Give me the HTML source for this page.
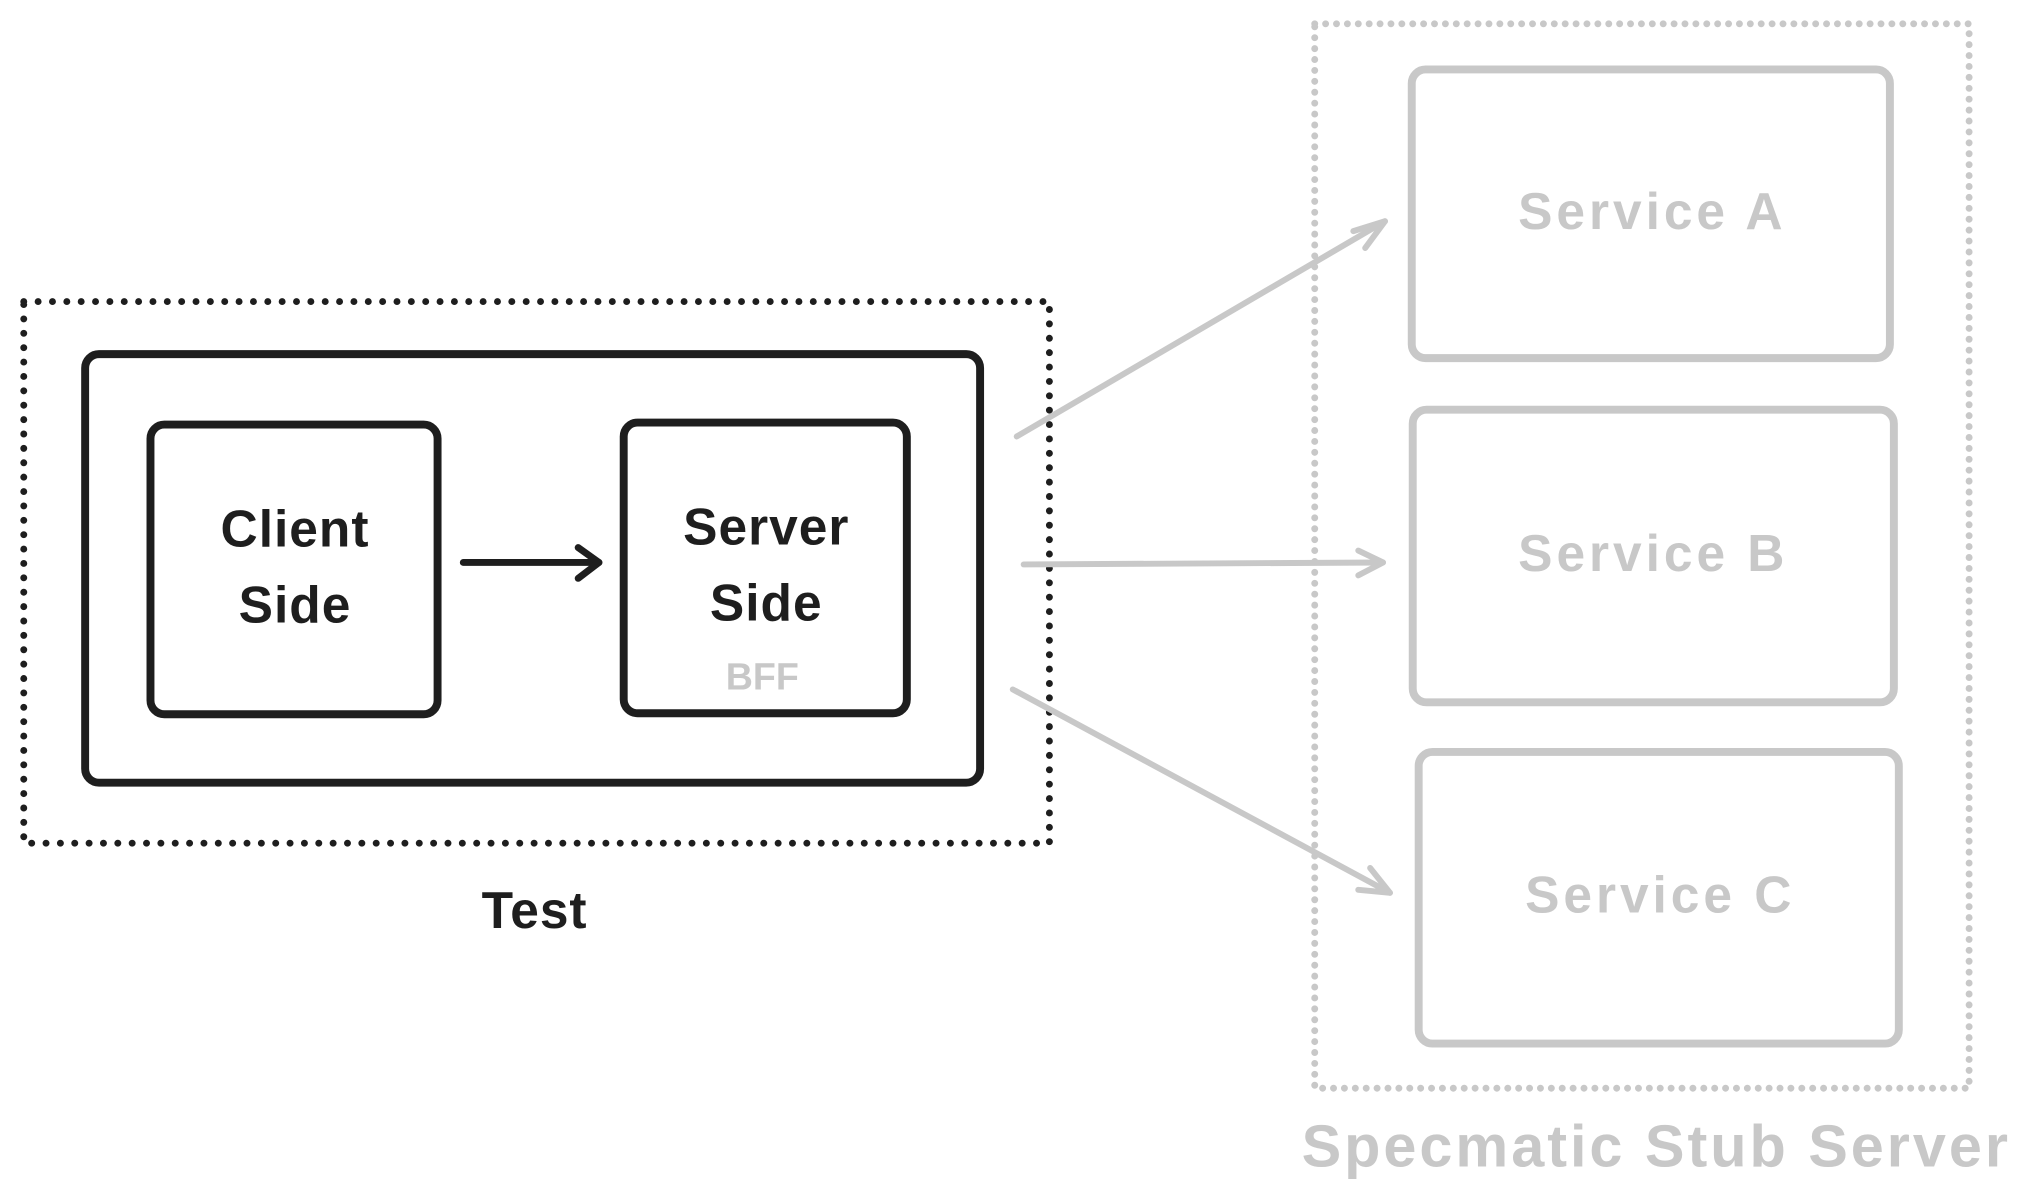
<!DOCTYPE html>
<html><head><meta charset="utf-8"><style>
html,body{margin:0;padding:0;background:#fff;}
svg{display:block}
text{font-family:"Liberation Sans",sans-serif;font-weight:bold;text-anchor:middle;dominant-baseline:middle}
</style></head><body>
<svg width="2036" height="1200" viewBox="0 0 2036 1200" xmlns="http://www.w3.org/2000/svg">
<rect width="2036" height="1200" fill="#fff"/>
<g transform="scale(0.99,0.992)">
<rect x="24" y="304" width="1036" height="546" fill="none" stroke="#1e1e1e" stroke-width="7" stroke-dasharray="0 14.5" stroke-linecap="round"/>
<rect x="86" y="357" width="904" height="432" rx="14" fill="none" stroke="#1e1e1e" stroke-width="8"/>
<rect x="152" y="428" width="290" height="292" rx="14" fill="none" stroke="#1e1e1e" stroke-width="8"/>
<rect x="630" y="426" width="286" height="293" rx="14" fill="none" stroke="#1e1e1e" stroke-width="8"/>
<g stroke="#1e1e1e" stroke-width="7" stroke-linecap="round" fill="none" stroke-linejoin="round">
<line x1="468" y1="567" x2="605" y2="567"/>
<polyline points="584,552 605,567 584,583"/>
</g>
<text x="298" y="537" font-size="52" fill="#1e1e1e" letter-spacing="1">Client</text>
<text x="298" y="614" font-size="52" fill="#1e1e1e" letter-spacing="1">Side</text>
<text x="774" y="535" font-size="52" fill="#1e1e1e" letter-spacing="1">Server</text>
<text x="774" y="612" font-size="52" fill="#1e1e1e" letter-spacing="1">Side</text>
<text x="770" y="685" font-size="38" fill="#c8c8c8">BFF</text>
<text x="540" y="922" font-size="52" fill="#1e1e1e" letter-spacing="1">Test</text>
<rect x="1328" y="24" width="661" height="1073" fill="none" stroke="#c8c8c8" stroke-width="7" stroke-dasharray="0 11" stroke-linecap="round"/>
<g fill="none" stroke="#c8c8c8" stroke-width="8">
<rect x="1426" y="70" width="483" height="291" rx="14"/>
<rect x="1427" y="413" width="486" height="295" rx="14"/>
<rect x="1433" y="758" width="485" height="294" rx="14"/>
</g>
<text x="1669" y="217" font-size="52" fill="#c8c8c8" letter-spacing="4">Service A</text>
<text x="1670" y="562" font-size="52" fill="#c8c8c8" letter-spacing="4">Service B</text>
<text x="1677" y="906" font-size="52" fill="#c8c8c8" letter-spacing="4">Service C</text>
<text x="1673" y="1160" font-size="60" fill="#c8c8c8" letter-spacing="3">Specmatic Stub Server</text>
<g stroke="#c8c8c8" stroke-width="6" stroke-linecap="round" fill="none" stroke-linejoin="round">
<line x1="1027" y1="440" x2="1399" y2="223"/>
<polyline points="1367,233 1399,223 1379,250"/>
<line x1="1034" y1="569" x2="1397" y2="567"/>
<polyline points="1372,555 1397,567 1372,580"/>
<line x1="1023" y1="695" x2="1404" y2="900"/>
<polyline points="1384,875 1404,900 1372,897"/>
</g>
</g>
</svg>
</body></html>
